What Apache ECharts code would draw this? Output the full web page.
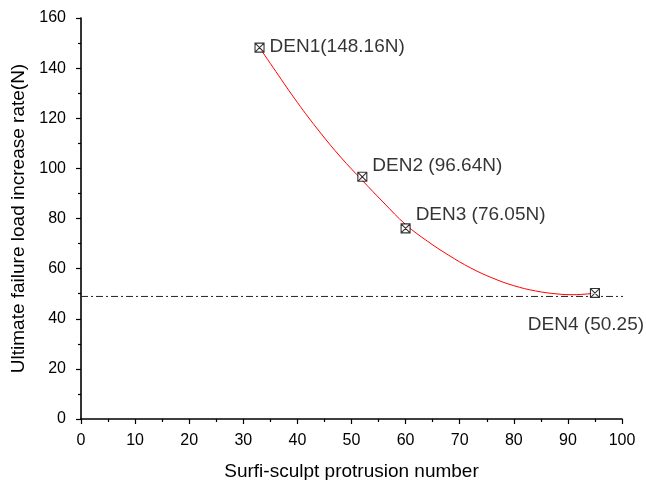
<!DOCTYPE html>
<html>
<head>
<meta charset="utf-8">
<script src="https://cdn.jsdelivr.net/npm/echarts@6/dist/echarts.min.js"></script>
<style>html,body{margin:0;padding:0;background:#fff}#c{width:646px;height:480px}</style>
</head>
<body>
<div id="c"></div>
<script>
// Data points (Surfi-sculpt protrusion number vs. load)
var pointNames = ['DEN1(148.16N)', 'DEN2 (96.64N)', 'DEN3 (76.05N)', 'DEN4 (50.25)'];
var pointX = [33, 52, 60, 95];
var pointY = [148.16, 96.64, 76.05, 50.25];
// Fitted curve
var curveX = [33, 36, 40, 44, 48, 52, 56, 60, 64, 68, 72, 76, 80, 84, 88, 91, 95];
var curveY = [148.2, 138.7, 126.3, 114.9, 104.5, 95.2, 86.2, 77.6, 71.0, 65.3, 60.3, 56.3, 53.2, 51.1, 49.9, 49.6, 50.2];
// Horizontal reference line
var refX = [0, 100.5];
var refY = [48.9, 48.9];

var FONT = "'Liberation Sans', Arial, sans-serif";
var labelOffsets = [[0, -1], [0, -11], [0, -14], [-9, 32]];
var labelPos = ['right', 'right', 'right', 'inside'];

var chart = echarts.init(document.getElementById('c'));
var axisCommon = {
  axisLine: { show: true, onZero: false, lineStyle: { color: '#000', width: 1.6 } },
  axisTick: { show: true, inside: false, length: 5, lineStyle: { color: '#000', width: 1.2 } },
  minorTick: { show: true, splitNumber: 2, length: 3, lineStyle: { color: '#000', width: 1.2 } },
  splitLine: { show: false },
  axisLabel: { color: '#000', fontSize: 16, fontFamily: FONT },
  nameTextStyle: { color: '#000', fontSize: 19, fontFamily: FONT },
  nameLocation: 'middle'
};
chart.setOption({
  animation: false,
  backgroundColor: '#fff',
  grid: { left: 81, right: 24, top: 18, bottom: 61, containLabel: false, outerBoundsMode: 'none' },
  xAxis: Object.assign({}, axisCommon, {
    type: 'value', min: 0, max: 100, interval: 10,
    name: 'Surfi-sculpt protrusion number', nameGap: 43,
    axisLabel: Object.assign({}, axisCommon.axisLabel, { margin: 14 })
  }),
  yAxis: Object.assign({}, axisCommon, {
    type: 'value', min: 0, max: 160, interval: 20,
    name: 'Ultimate failure load increase rate(N)', nameGap: 50,
    axisLabel: Object.assign({}, axisCommon.axisLabel, { margin: 15 })
  }),
  series: [
    {
      type: 'line',
      data: refX.map(function (x, i) { return [x, refY[i]]; }),
      symbol: 'none', clip: false,
      lineStyle: { color: '#222', width: 1, type: [7, 3, 2, 3] },
      z: 1
    },
    {
      type: 'line',
      data: curveX.map(function (x, i) { return [x, curveY[i]]; }),
      symbol: 'none', smooth: 0.4,
      lineStyle: { color: '#ff0000', width: 1 },
      z: 2
    },
    {
      type: 'scatter',
      symbol: 'path://M0 0H10V10H0Z M0 0L10 10M10 0L0 10',
      symbolSize: 9,
      itemStyle: { color: '#fff', borderColor: '#000', borderWidth: 1.1 },
      data: pointX.map(function (x, i) {
        return {
          value: [x, pointY[i]],
          label: {
            show: true, formatter: pointNames[i], position: labelPos[i],
            distance: 5, offset: labelOffsets[i],
            color: '#000', fontSize: 19, fontFamily: FONT
          }
        };
      }),
      z: 3
    }
  ]
});
</script>
</body>
</html>
